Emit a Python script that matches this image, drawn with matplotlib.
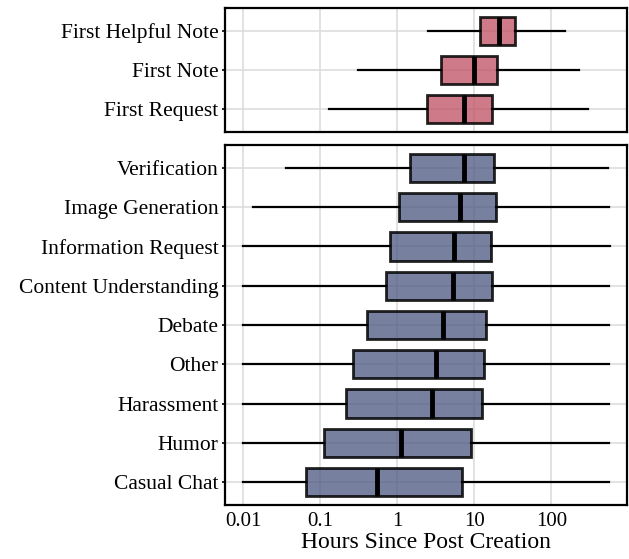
import numpy as np
import matplotlib
matplotlib.use("Agg")
import matplotlib.pyplot as plt
from matplotlib.colors import to_rgba

plt.rcParams['font.family'] = ['Liberation Serif', 'DejaVu Serif']

# milestone boxes (top panel), values in hours
milestones = ['First Helpful Note', 'First Note', 'First Request']
m_whislo = [2.5, 0.31, 0.13]
m_q1 = [11.7, 3.7, 2.4]
m_med = [20.9, 10.0, 7.4]
m_q3 = [33.8, 19.9, 16.8]
m_whishi = [148, 229, 294]

# request categories (bottom panel)
categories = ['Verification', 'Image Generation', 'Information Request',
              'Content Understanding', 'Debate', 'Other', 'Harassment',
              'Humor', 'Casual Chat']
c_whislo = [0.036, 0.0134, 0.01, 0.01, 0.01, 0.01, 0.01, 0.01, 0.01]
c_q1 = [1.46, 1.05, 0.80, 0.71, 0.40, 0.264, 0.216, 0.111, 0.065]
c_med = [7.3, 6.4, 5.45, 5.2, 3.9, 3.2, 2.8, 1.11, 0.55]
c_q3 = [17.7, 19.3, 16.3, 16.8, 14.1, 13.5, 12.6, 8.9, 6.9]
c_whishi = [550, 567, 578, 567, 556, 556, 556, 556, 556]


def _stats(labels, lo, q1, med, q3, hi):
    return [dict(label=l, whislo=a, q1=b, med=c, q3=d, whishi=e, fliers=[])
            for l, a, b, c, d, e in zip(labels, lo, q1, med, q3, hi)]


def _draw(ax, stats, color):
    n = len(stats)
    ax.bxp(stats, positions=range(n), widths=0.72, orientation='horizontal',
           showcaps=False, showfliers=False, patch_artist=True,
           boxprops=dict(facecolor=to_rgba(color, 0.75),
                         edgecolor=to_rgba('black', 0.85), linewidth=2),
           medianprops=dict(color='black', linewidth=3.5),
           whiskerprops=dict(color='black', linewidth=1.6))
    ax.set_xscale('log')
    ax.set_xlim(0.0057, 960)
    ax.set_ylim(n - 1 + 0.58, -0.58)
    ax.grid(True, color='#dddddd', linewidth=1.2)
    ax.set_axisbelow(True)
    for s in ax.spines.values():
        s.set_linewidth(1.6)
    ax.tick_params(axis='y', length=2.5, width=1.2, labelsize=15.5, pad=2)
    ax.tick_params(axis='x', length=0, labelsize=15, pad=5)


fig = plt.figure(figsize=(6.29, 5.59), dpi=100)
ax1 = fig.add_axes([0.357, 0.7639, 0.640, 0.2218])
ax2 = fig.add_axes([0.357, 0.0966, 0.640, 0.6440])

_draw(ax1, _stats(milestones, m_whislo, m_q1, m_med, m_q3, m_whishi), '#c04e60')
_draw(ax2, _stats(categories, c_whislo, c_q1, c_med, c_q3, c_whishi), '#4b5680')

ticks = [0.01, 0.1, 1, 10, 100]
for ax in (ax1, ax2):
    ax.set_xticks(ticks)
    ax.xaxis.set_minor_locator(matplotlib.ticker.NullLocator())
ax2.set_xticklabels(['0.01', '0.1', '1', '10', '100'])
ax1.set_xticklabels([])
ax2.set_xlabel('Hours Since Post Creation', fontsize=17, labelpad=1)

fig.savefig('out.png', dpi=100)
